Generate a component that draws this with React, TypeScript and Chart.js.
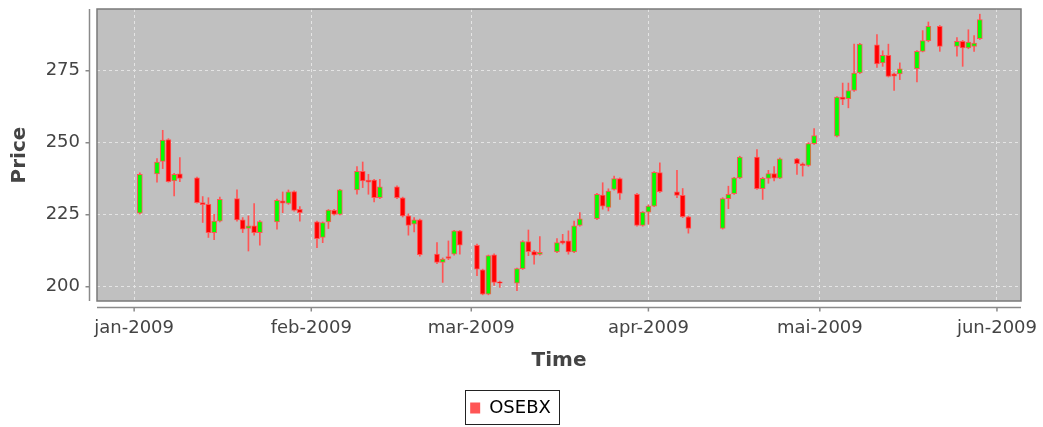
import React, { useEffect, useRef } from 'react';
import { Chart, registerables } from 'chart.js';

Chart.register(...registerables);

// ---- data (OSEBX daily OHLC) ----
const dates = [
  '2009-01-02', '2009-01-05', '2009-01-06', '2009-01-07', '2009-01-08', '2009-01-09',
  '2009-01-12', '2009-01-13', '2009-01-14', '2009-01-15', '2009-01-16',
  '2009-01-19', '2009-01-20', '2009-01-21', '2009-01-22', '2009-01-23',
  '2009-01-26', '2009-01-27', '2009-01-28', '2009-01-29', '2009-01-30',
  '2009-02-02', '2009-02-03', '2009-02-04', '2009-02-05', '2009-02-06',
  '2009-02-09', '2009-02-10', '2009-02-11', '2009-02-12', '2009-02-13',
  '2009-02-16', '2009-02-17', '2009-02-18', '2009-02-19', '2009-02-20',
  '2009-02-23', '2009-02-24', '2009-02-25', '2009-02-26', '2009-02-27',
  '2009-03-02', '2009-03-03', '2009-03-04', '2009-03-05', '2009-03-06',
  '2009-03-09', '2009-03-10', '2009-03-11', '2009-03-12', '2009-03-13',
  '2009-03-16', '2009-03-17', '2009-03-18', '2009-03-19', '2009-03-20',
  '2009-03-23', '2009-03-24', '2009-03-25', '2009-03-26', '2009-03-27',
  '2009-03-30', '2009-03-31', '2009-04-01', '2009-04-02', '2009-04-03',
  '2009-04-06', '2009-04-07', '2009-04-08',
  '2009-04-14', '2009-04-15', '2009-04-16', '2009-04-17',
  '2009-04-20', '2009-04-21', '2009-04-22', '2009-04-23', '2009-04-24',
  '2009-04-27', '2009-04-28', '2009-04-29', '2009-04-30',
  '2009-05-04', '2009-05-05', '2009-05-06', '2009-05-07', '2009-05-08',
  '2009-05-11', '2009-05-12', '2009-05-13', '2009-05-14', '2009-05-15',
  '2009-05-18', '2009-05-19', '2009-05-20', '2009-05-22',
  '2009-05-25', '2009-05-26', '2009-05-27', '2009-05-28', '2009-05-29',
];

const opens = [
  225.5, 239.2, 243.5, 251.1, 236.7, 239.2,
  237.8, 229.2, 228.6, 218.8, 222.8,
  230.6, 223.2, 220.2, 221.1, 218.8,
  222.5, 229.8, 228.9, 233.0, 226.9,
  222.5, 217.1, 222.5, 226.5, 225.1,
  233.6, 240.1, 237.0, 237.0, 230.9,
  234.7, 230.9, 224.6, 221.7, 223.2,
  211.3, 208.4, 210.5, 211.3, 219.4,
  214.4, 205.9, 197.4, 211.1, 201.7,
  201.2, 206.3, 215.7, 212.2, 211.2,
  212.1, 215.9, 215.9, 212.1, 221.3,
  223.6, 231.8, 227.5, 233.8, 237.5,
  232.1, 221.3, 225.9, 228.0, 239.6,
  232.9, 231.7, 224.3,
  220.2, 230.6, 232.3, 237.8,
  245.0, 234.0, 237.6, 239.3, 237.7,
  244.4, 242.7, 242.1, 249.7,
  252.3, 265.8, 265.3, 268.1, 274.2,
  284.0, 277.7, 280.3, 273.9, 273.9,
  275.7, 281.7, 285.4, 290.4,
  283.4, 285.2, 282.9, 283.4, 286.1,
];

const highs = [
  239.5, 244.5, 254.3, 251.4, 239.4, 244.8,
  238.1, 231.3, 230.9, 225.1, 231.1,
  233.6, 224.0, 224.6, 228.9, 223.0,
  230.4, 232.9, 233.6, 233.3, 227.8,
  222.8, 222.5, 226.8, 226.9, 233.8,
  241.7, 243.3, 239.0, 237.3, 237.3,
  235.0, 231.1, 225.3, 224.0, 223.5,
  215.3, 210.0, 215.9, 219.6, 219.6,
  214.8, 206.1, 211.0, 211.4, 202.0,
  206.5, 216.0, 219.7, 212.6, 217.4,
  216.7, 218.2, 219.4, 222.8, 225.7,
  232.4, 236.1, 234.0, 238.4, 237.8,
  232.4, 226.1, 228.4, 240.0, 243.0,
  240.4, 234.1, 224.5,
  230.9, 234.9, 238.0, 245.3,
  247.6, 238.0, 240.4, 241.7, 244.7,
  244.6, 243.0, 250.0, 254.9,
  266.0, 270.7, 270.7, 284.2, 284.5,
  287.5, 281.9, 284.2, 274.2, 277.7,
  282.0, 288.9, 291.9, 290.7,
  286.5, 285.5, 289.2, 287.2, 294.6,
];

const lows = [
  225.2, 236.3, 241.0, 236.3, 231.5, 236.5,
  229.0, 222.3, 217.1, 216.3, 222.5,
  222.8, 218.8, 212.4, 217.9, 214.4,
  220.0, 225.7, 228.6, 226.2, 222.8,
  213.6, 215.3, 220.2, 224.8, 224.9,
  232.1, 234.4, 232.1, 229.4, 230.6,
  230.6, 224.2, 217.9, 219.0, 210.6,
  208.0, 201.5, 209.4, 211.0, 211.3,
  203.8, 197.2, 197.2, 200.5, 199.8,
  198.6, 206.0, 210.8, 207.8, 211.0,
  211.8, 214.8, 211.3, 211.8, 221.0,
  223.3, 226.9, 226.3, 233.5, 230.3,
  221.0, 221.0, 221.7, 227.8, 232.7,
  230.9, 224.0, 218.6,
  220.0, 227.1, 232.0, 237.5,
  233.8, 230.3, 235.9, 236.7, 237.5,
  239.0, 238.4, 241.8, 249.4,
  252.0, 263.2, 262.1, 267.8, 274.0,
  276.1, 276.5, 272.8, 268.1, 271.9,
  271.1, 281.5, 285.0, 281.7,
  280.0, 276.5, 282.6, 281.7, 285.8,
];

const closes = [
  239.0, 243.3, 250.9, 236.5, 239.0, 237.6,
  229.2, 228.5, 218.8, 222.8, 230.3,
  223.2, 220.0, 221.1, 218.8, 222.6,
  230.0, 229.0, 232.9, 226.5, 225.7,
  216.7, 222.3, 226.6, 225.1, 233.6,
  240.1, 236.7, 236.3, 230.9, 234.7,
  230.9, 224.6, 221.3, 223.2, 211.1,
  208.4, 209.6, 209.8, 219.4, 214.4,
  206.1, 197.4, 210.8, 201.5, 201.2,
  206.3, 215.7, 212.2, 211.0, 211.9,
  215.3, 215.1, 212.1, 221.1, 223.6,
  232.1, 228.0, 233.2, 237.5, 232.4,
  221.3, 225.9, 228.0, 239.7, 233.0,
  231.7, 224.3, 220.2,
  230.6, 232.1, 237.8, 245.0,
  234.0, 237.6, 239.3, 237.7, 244.4,
  242.7, 242.0, 249.7, 252.5,
  265.8, 265.0, 268.1, 274.2, 284.2,
  277.3, 280.3, 273.0, 273.1, 275.6,
  281.7, 285.4, 290.4, 283.4,
  285.2, 282.9, 284.9, 284.6, 292.7,
];

const monthTicks = ['2009-01-01', '2009-02-01', '2009-03-01', '2009-04-01', '2009-05-01', '2009-06-01'];
const monthLabels = ['jan-2009', 'feb-2009', 'mar-2009', 'apr-2009', 'mai-2009', 'jun-2009'];
const priceTicks = [200, 225, 250, 275];
const seriesName = 'OSEBX';

const axisStart = '2008-12-25T12:00:00Z';
const axisEnd = '2009-06-05T05:00:00Z';
const priceMin = 195.05;
const priceMax = 296.4;

const EPOCH = Date.parse('2009-01-01T00:00:00Z');
const dayOf = (s: string) => {
  const iso = s.length === 10 ? s + 'T00:00:00Z' : s;
  return (Date.parse(iso) - EPOCH) / 86400000;
};

const UP = '#00FF00';
const DOWN = '#FF0000';
const SERIES = '#FF5555';
const TEXT = '#444444';
const FONT = "'DejaVu Sans', sans-serif";

const jfreeLook = {
  id: 'jfreeLook',
  beforeDraw(chart: any) {
    const { ctx, chartArea: a } = chart;
    ctx.save();
    ctx.fillStyle = '#C0C0C0';
    ctx.fillRect(a.left, a.top, a.right - a.left, a.bottom - a.top);
    ctx.restore();
  },
  afterDraw(chart: any) {
    const { ctx, chartArea: a, scales } = chart;
    ctx.save();
    // plot outline
    ctx.strokeStyle = '#7A7A7A';
    ctx.lineWidth = 1.5;
    ctx.strokeRect(a.left, a.top, a.right - a.left, a.bottom - a.top);
    // detached axis lines with tick marks
    ctx.strokeStyle = '#8A8A8A';
    ctx.lineWidth = 1.5;
    ctx.beginPath();
    const ax = a.left - 7.5;
    ctx.moveTo(ax, a.top);
    ctx.lineTo(ax, a.bottom);
    scales.y.ticks.forEach((t: any) => {
      const py = scales.y.getPixelForValue(t.value);
      ctx.moveTo(ax - 4, py);
      ctx.lineTo(ax, py);
    });
    const ay = a.bottom + 6.5;
    ctx.moveTo(a.left, ay);
    ctx.lineTo(a.right, ay);
    scales.x.ticks.forEach((t: any) => {
      const px = scales.x.getPixelForValue(t.value);
      ctx.moveTo(px, ay);
      ctx.lineTo(px, ay + 4);
    });
    ctx.stroke();
    // legend frame
    const hb = chart.legend && chart.legend.legendHitBoxes && chart.legend.legendHitBoxes[0];
    if (hb) {
      ctx.strokeStyle = '#222222';
      ctx.lineWidth = 1;
      const l = Math.round(hb.left - 5) + 0.5;
      const t = Math.round(hb.top - 9) + 0.5;
      const r = Math.round(hb.left + hb.width + 8) + 0.5;
      const b = Math.round(hb.top + hb.height + 7) + 0.5;
      ctx.strokeRect(l, t, r - l, b - t);
    }
    ctx.restore();
  },
};

export default function App() {
  const ref = useRef<HTMLCanvasElement>(null);

  useEffect(() => {
    if (!ref.current) return;
    const xs = dates.map(dayOf);
    const bodies = xs.map((x, i) => ({ x, y: [opens[i], closes[i]] }));
    const wicks = xs.map((x, i) => ({ x, y: [lows[i], highs[i]] }));
    const bodyColors = opens.map((o, i) => (closes[i] >= o ? UP : DOWN));
    const tickDays = monthTicks.map(dayOf);

    const chart = new Chart(ref.current, {
      type: 'bar',
      data: {
        datasets: [
          {
            label: seriesName,
            data: bodies as any,
            backgroundColor: bodyColors,
            borderColor: SERIES,
            borderWidth: 1,
            borderSkipped: false,
            barThickness: 5,
            grouped: false,
          } as any,
          {
            label: seriesName + ' range',
            data: wicks as any,
            backgroundColor: SERIES,
            borderWidth: 0,
            barThickness: 1,
            grouped: false,
          } as any,
        ],
      },
      options: {
        animation: false,
        responsive: true,
        maintainAspectRatio: false,
        font: { family: FONT } as any,
        layout: { padding: { top: 9, right: 22, left: 0, bottom: 0 } },
        plugins: {
          tooltip: { enabled: false },
          legend: {
            position: 'bottom',
            labels: {
              font: { family: FONT, size: 18 },
              color: '#333333',
              boxWidth: 10,
              boxHeight: 11,
              padding: 10,
              generateLabels: () => [
                {
                  text: seriesName,
                  fillStyle: SERIES,
                  strokeStyle: SERIES,
                  lineWidth: 0,
                  hidden: false,
                  datasetIndex: 0,
                } as any,
              ],
            },
          },
        },
        scales: {
          x: {
            type: 'linear',
            min: dayOf(axisStart),
            max: dayOf(axisEnd),
            offset: false,
            grid: { color: '#E4E4E4', lineWidth: 1, offset: false, drawTicks: false },
            border: { display: false, dash: [3, 3] },
            afterBuildTicks: (s: any) => {
              s.ticks = tickDays.map((v) => ({ value: v }));
            },
            ticks: {
              autoSkip: false,
              maxRotation: 0,
              padding: 17,
              color: TEXT,
              font: { family: FONT, size: 18 },
              callback: (_v: any, i: number) => monthLabels[i],
            },
            title: {
              display: true,
              text: 'Time',
              color: TEXT,
              font: { family: FONT, size: 20, weight: 'bold' },
              padding: { top: 0, bottom: 16 },
            },
            afterFit: (s: any) => {
              s.height = 88;
              s.paddingLeft = 0;
              s.paddingRight = 0;
            },
          } as any,
          y: {
            type: 'linear',
            min: priceMin,
            max: priceMax,
            beginAtZero: false,
            grid: { color: '#E4E4E4', lineWidth: 1, drawTicks: false },
            border: { display: false, dash: [3, 3] },
            afterBuildTicks: (s: any) => {
              s.ticks = priceTicks.map((v) => ({ value: v }));
            },
            ticks: {
              padding: 17,
              color: TEXT,
              font: { family: FONT, size: 18 },
              callback: (v: any) => String(v),
            },
            title: {
              display: true,
              text: 'Price',
              color: TEXT,
              font: { family: FONT, size: 20, weight: 'bold' },
              padding: { top: 8, bottom: 0 },
            },
            afterFit: (s: any) => {
              s.width = 97;
              s.paddingTop = 0;
              s.paddingBottom = 0;
            },
          } as any,
        },
      },
      plugins: [jfreeLook],
    });

    return () => chart.destroy();
  }, []);

  return (
    <div style={{ position: 'absolute', left: 0, top: 0, width: 1043, height: 427, background: '#FFFFFF' }}>
      <canvas ref={ref} />
    </div>
  );
}
